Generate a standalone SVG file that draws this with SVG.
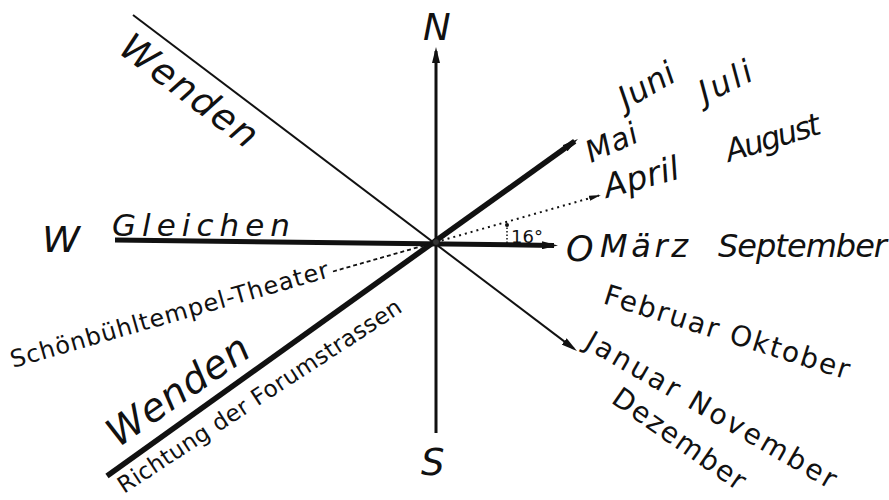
<svg xmlns="http://www.w3.org/2000/svg" width="889" height="500" viewBox="0 0 889 500">
<style>
text{font-family:"DejaVu Sans","Liberation Sans",sans-serif;fill:#111}
.it{font-style:oblique}
.ln{stroke:#111;fill:none;stroke-linecap:butt}
</style>
<defs>
<marker id="ah" viewBox="0 0 16 8" refX="12" refY="4" markerWidth="16" markerHeight="8" markerUnits="userSpaceOnUse" orient="auto"><path d="M0,0 L16,4 L0,8 z" fill="#111"/></marker>
<marker id="ahs" viewBox="0 0 12 6" refX="10" refY="3" markerWidth="12" markerHeight="6" markerUnits="userSpaceOnUse" orient="auto"><path d="M0,0.5 L12,3 L0,5.5 z" fill="#111"/></marker>
</defs>
<rect width="889" height="500" fill="#fff"/>
<g id="connectors">
<line class="ln" x1="436" y1="433" x2="436" y2="51" stroke-width="3" marker-end="url(#ah)"/>
<line class="ln" x1="115" y1="240" x2="554" y2="245.4" stroke-width="5" marker-end="url(#ah)"/>
<line class="ln" x1="107" y1="476" x2="574.7" y2="141.3" stroke-width="5.5" marker-end="url(#ah)"/>
<line class="ln" x1="133" y1="15" x2="573.8" y2="348.6" stroke-width="2" marker-end="url(#ah)"/>
<line class="ln" x1="333" y1="271.5" x2="436" y2="242.1" stroke-width="1.8" stroke-dasharray="4 3"/>
<line class="ln" x1="436" y1="242.1" x2="599" y2="195.5" stroke-width="2" stroke-dasharray="2 4" marker-end="url(#ahs)"/>
<line class="ln" x1="507" y1="243" x2="507" y2="227" stroke-width="1.5" stroke-dasharray="1.5 2"/>
<circle cx="507" cy="225" r="2" fill="#111"/>
<circle cx="436" cy="242" r="3.5" fill="#333" stroke="#111" stroke-width="1"/>
</g>
<g id="N"><text class="it" x="423" y="40" font-size="37">N</text></g>
<g id="S"><text class="it" x="421" y="475" font-size="37">S</text></g>
<g id="W"><text class="it" x="42" y="252" font-size="36" textLength="38" lengthAdjust="spacingAndGlyphs">W</text></g>
<g id="O"><text class="it" x="566" y="261" font-size="35">O</text></g>
<g id="Gleichen"><text class="it" x="112" y="236" font-size="31" textLength="178">Gleichen</text></g>
<g id="Maerz"><text class="it" x="600" y="257" font-size="32" textLength="88">März</text></g>
<g id="September"><text class="it" x="718" y="257" font-size="32" textLength="169">September</text></g>
<g id="sixteen"><text x="511" y="243" font-size="18">16°</text></g>
<g id="Wenden-top"><text class="it" transform="translate(117,52) rotate(37)" font-size="37" textLength="162">Wenden</text></g>
<g id="Wenden-bottom"><text class="it" transform="translate(118,448) rotate(-34.6)" font-size="39" textLength="164">Wenden</text></g>
<g id="Richtung"><text transform="translate(124,494) rotate(-33.2)" font-size="23" textLength="334">Richtung der Forumstrassen</text></g>
<g id="Schoenbuehl"><text transform="translate(13,368) rotate(-16)" font-size="24" textLength="330">Schönbühltempel-Theater</text></g>
<g id="Juni"><text class="it" transform="translate(626,110) rotate(-30)" font-size="32" textLength="60">Juni</text></g>
<g id="Juli"><text class="it" transform="translate(705,104) rotate(-26)" font-size="32" textLength="56">Juli</text></g>
<g id="Mai"><text class="it" transform="translate(591,163) rotate(-24)" font-size="30" textLength="54">Mai</text></g>
<g id="April"><text class="it" transform="translate(607,198) rotate(-15)" font-size="33" textLength="77">April</text></g>
<g id="August"><text class="it" transform="translate(729,162) rotate(-17)" font-size="31" textLength="98">August</text></g>
<g id="Februar-Oktober"><text transform="translate(602,303) rotate(17.4)" font-size="28" textLength="256">Februar Oktober</text></g>
<g id="Januar-November"><text transform="translate(583,347) rotate(30)" font-size="28" textLength="285">Januar November</text></g>
<g id="Dezember"><text transform="translate(610,402) rotate(35)" font-size="28" textLength="156">Dezember</text></g>
</svg>
